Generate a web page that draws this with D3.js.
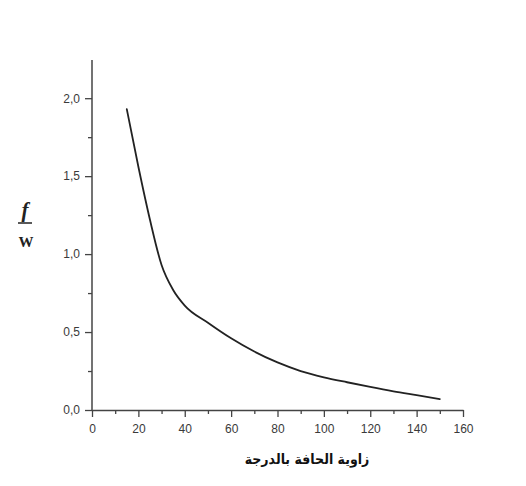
<!DOCTYPE html>
<html>
<head>
<meta charset="utf-8">
<script src="https://cdn.jsdelivr.net/npm/d3@7"></script>
<style>
  body { margin: 0; background: #fff; }
  text { font-family: "Liberation Sans", Arial, sans-serif; }
</style>
</head>
<body>
<svg id="chart" width="526" height="486"></svg>
<script>
// edge angle in degrees vs f/W
const angles = [15, 20, 25, 30, 35, 40, 50, 60, 70, 80, 90, 100, 110, 120, 130, 140, 150];
const ratio = [1.93, 1.56, 1.22, 0.93, 0.77, 0.67, 0.56, 0.46, 0.375, 0.305, 0.25, 0.21, 0.178, 0.148, 0.12, 0.095, 0.07];
const xTicks = [0, 20, 40, 60, 80, 100, 120, 140, 160];
const yTicks = [0, 0.5, 1.0, 1.5, 2.0];
const xTitle = "زاوية الحافة بالدرجة";

const width = 526;
const height = 486;
const margin = { top: 60, right: 63, bottom: 76, left: 92 };

const svg = d3.select("#chart");

const xScale = d3.scaleLinear()
  .domain([0, 160])
  .range([margin.left, width - margin.right]);

const yScale = d3.scaleLinear()
  .domain([0, 2.245])
  .range([height - margin.bottom, margin.top]);

const fmt = d => d3.format(".1f")(d).replace(".", ",");
const axisColor = "#444";

// minor ticks first
svg.append("g")
  .attr("transform", `translate(0, ${yScale(0)})`)
  .call(d3.axisBottom(xScale).tickValues(d3.range(10, 160, 20)).tickSize(4).tickFormat(""))
  .call(g => g.select(".domain").remove())
  .call(g => g.selectAll("line").attr("stroke", axisColor).attr("stroke-width", 1.3));

svg.append("g")
  .attr("transform", `translate(${margin.left}, 0)`)
  .call(d3.axisLeft(yScale).tickValues([0.25, 0.75, 1.25, 1.75]).tickSize(4).tickFormat(""))
  .call(g => g.select(".domain").remove())
  .call(g => g.selectAll("line").attr("stroke", axisColor).attr("stroke-width", 1.3));

const xAxis = svg.append("g")
  .attr("transform", `translate(0, ${yScale(0)})`)
  .call(d3.axisBottom(xScale).tickValues(xTicks).tickSize(7).tickSizeOuter(0).tickPadding(7).tickFormat(d3.format("d")));

const yAxis = svg.append("g")
  .attr("transform", `translate(${margin.left}, 0)`)
  .call(d3.axisLeft(yScale).tickValues(yTicks).tickSize(7).tickSizeOuter(0).tickPadding(5).tickFormat(fmt));

[xAxis, yAxis].forEach(g => {
  g.select(".domain").attr("stroke", axisColor).attr("stroke-width", 1.5);
  g.selectAll(".tick line").attr("stroke", axisColor).attr("stroke-width", 1.3);
  g.selectAll(".tick text")
    .attr("fill", "#3a3a3a")
    .style("font-size", "12px")
    .style("font-family", "'Liberation Sans Narrow', 'Liberation Sans', Arial, sans-serif");
});

// y axis runs a bit above the last label
yAxis.select(".domain").attr("d", `M0,${yScale(0)}V${margin.top}`);

const line = d3.line()
  .x((d, i) => xScale(angles[i]))
  .y(d => yScale(d))
  .curve(d3.curveMonotoneX);

svg.append("path")
  .datum(ratio)
  .attr("fill", "none")
  .attr("stroke", "#222")
  .attr("stroke-width", 1.8)
  .attr("stroke-linejoin", "round")
  .attr("stroke-linecap", "round")
  .attr("d", line);

// y label f / W
const yl = svg.append("g").attr("transform", "translate(25, 0)");
yl.append("text")
  .attr("x", 0).attr("y", 217)
  .attr("text-anchor", "middle")
  .style("font-family", "'Liberation Serif', 'Times New Roman', serif")
  .style("font-style", "italic")
  .style("font-weight", "bold")
  .style("font-size", "21px")
  .attr("fill", "#222")
  .text("f");
yl.append("line")
  .attr("x1", -7).attr("x2", 7)
  .attr("y1", 223).attr("y2", 223)
  .attr("stroke", "#222").attr("stroke-width", 1.5);
yl.append("text")
  .attr("x", 1).attr("y", 247)
  .attr("text-anchor", "middle")
  .style("font-family", "'Liberation Serif', 'Times New Roman', serif")
  .style("font-weight", "bold")
  .style("font-size", "15px")
  .attr("fill", "#222")
  .text("W");

svg.append("text")
  .attr("x", 307).attr("y", 464)
  .attr("text-anchor", "middle")
  .attr("direction", "rtl")
  .style("font-family", "'DejaVu Sans Condensed', 'DejaVu Sans', sans-serif")
  .style("font-weight", "bold")
  .style("font-size", "14px")
  .attr("fill", "#111")
  .text(xTitle);
</script>
</body>
</html>
